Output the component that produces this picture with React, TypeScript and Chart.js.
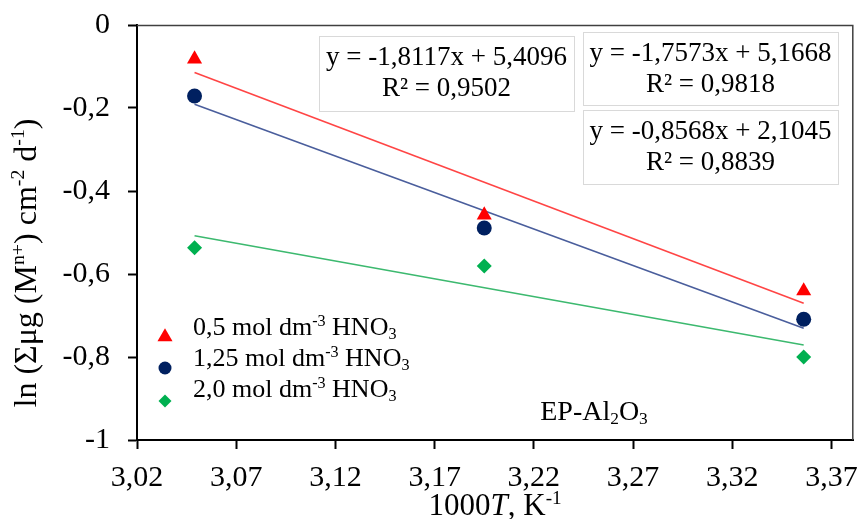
import React, { useEffect, useRef } from "react";
import { Chart, registerables } from "chart.js";

Chart.register(...registerables);

// ---- data ----
const invTemperature = [3.049, 3.195, 3.356]; // 1000/T, K^-1
const hno3_05 = [-0.082, -0.458, -0.641];
const hno3_125 = [-0.171, -0.489, -0.709];
const hno3_20 = [-0.537, -0.581, -0.8];
const seriesConcentrations = ["0,5", "1,25", "2,0"];
const trendSlopes = [-1.8117, -1.7573, -0.8568];
const trendIntercepts = [5.4096, 5.1668, 2.1045];
const trendR2 = [0.9502, 0.9818, 0.8839];
const xTickValues = [3.02, 3.07, 3.12, 3.17, 3.22, 3.27, 3.32, 3.37];
const yTickValues = [0, -0.2, -0.4, -0.6, -0.8, -1];
const materialLabel = "EP-Al";

// ---- styles ----
const FAMILY = '"Liberation Serif", "Times New Roman", serif';
const markerColors = ["#ff0000", "#002060", "#00b050"];
const lineColors = ["#ff4545", "#4a5e9c", "#3cb96f"];
const markerStyles = ["triangle", "circle", "rectRot"] as const;
const markerRadius = [8.7, 7.5, 7.5];

const comma = (v: number, d: number) => v.toFixed(d).replace(".", ",");

type Seg = { t: string; k?: "sup" | "sub" | "it" };

function drawRich(
  ctx: CanvasRenderingContext2D,
  segs: Seg[],
  x: number,
  y: number,
  size: number,
  align: "left" | "center"
) {
  const small = size * 0.62;
  ctx.textAlign = "left";
  ctx.textBaseline = "alphabetic";
  const items = segs.map((s) => {
    const fs = s.k === "sup" || s.k === "sub" ? small : size;
    ctx.font = `${s.k === "it" ? "italic " : ""}${fs}px ${FAMILY}`;
    return { s, fs, w: ctx.measureText(s.t).width };
  });
  const total = items.reduce((a, b) => a + b.w, 0);
  let cx = align === "center" ? x - total / 2 : x;
  for (const it of items) {
    ctx.font = `${it.s.k === "it" ? "italic " : ""}${it.fs}px ${FAMILY}`;
    const dy = it.s.k === "sup" ? -size * 0.36 : it.s.k === "sub" ? size * 0.16 : 0;
    ctx.fillText(it.s.t, cx, y + dy);
    cx += it.w;
  }
}

function drawMarker(ctx: CanvasRenderingContext2D, style: string, x: number, y: number, r: number, color: string) {
  ctx.fillStyle = color;
  ctx.beginPath();
  if (style === "triangle") {
    let rad = 0;
    ctx.moveTo(x + Math.sin(rad) * r, y - Math.cos(rad) * r);
    rad += (2 * Math.PI) / 3;
    ctx.lineTo(x + Math.sin(rad) * r, y - Math.cos(rad) * r);
    rad += (2 * Math.PI) / 3;
    ctx.lineTo(x + Math.sin(rad) * r, y - Math.cos(rad) * r);
  } else if (style === "circle") {
    ctx.arc(x, y, r, 0, Math.PI * 2);
  } else {
    ctx.moveTo(x, y - r);
    ctx.lineTo(x + r, y);
    ctx.lineTo(x, y + r);
    ctx.lineTo(x - r, y);
  }
  ctx.closePath();
  ctx.fill();
}

const decorPlugin = {
  id: "decor",
  afterDraw(chart: any) {
    const ctx: CanvasRenderingContext2D = chart.ctx;
    const a = chart.chartArea;
    ctx.save();
    // top & right frame
    ctx.strokeStyle = "#404040";
    ctx.lineWidth = 1.5;
    ctx.beginPath();
    ctx.moveTo(a.left, a.top + 0.5);
    ctx.lineTo(a.right - 0.5, a.top + 0.5);
    ctx.lineTo(a.right - 0.5, a.bottom);
    ctx.stroke();

    // equation boxes
    const boxes = [
      { x: 319, y: 36, w: 255, h: 75 },
      { x: 583, y: 32, w: 255, h: 73 },
      { x: 583, y: 110, w: 255, h: 74 },
    ];
    boxes.forEach((b, i) => {
      ctx.fillStyle = "#ffffff";
      ctx.fillRect(b.x, b.y, b.w, b.h);
      ctx.strokeStyle = "#d9d9d9";
      ctx.lineWidth = 1;
      ctx.strokeRect(b.x + 0.5, b.y + 0.5, b.w, b.h);
      ctx.fillStyle = "#000";
      const cx = b.x + b.w / 2;
      drawRich(
        ctx,
        [{ t: `y = ${comma(trendSlopes[i], 4)}x + ${comma(trendIntercepts[i], 4)}` }],
        cx,
        b.y + 29,
        27,
        "center"
      );
      drawRich(ctx, [{ t: `R² = ${comma(trendR2[i], 4)}` }], cx, b.y + 60, 27, "center");
    });

    // legend
    const rowsText = [335, 366, 397];
    const rowsMark = [337, 368, 401];
    const legendR = [8.7, 6.5, 6.5];
    seriesConcentrations.forEach((c, i) => {
      drawMarker(ctx, markerStyles[i], 165, rowsMark[i], legendR[i], markerColors[i]);
      ctx.fillStyle = "#000";
      drawRich(
        ctx,
        [{ t: `${c} mol dm` }, { t: "-3", k: "sup" }, { t: " HNO" }, { t: "3", k: "sub" }],
        193,
        rowsText[i],
        26,
        "left"
      );
    });

    // material label
    ctx.fillStyle = "#000";
    drawRich(
      ctx,
      [{ t: materialLabel }, { t: "2", k: "sub" }, { t: "O" }, { t: "3", k: "sub" }],
      594,
      420,
      28,
      "center"
    );

    // x title
    drawRich(
      ctx,
      [{ t: "1000" }, { t: "T", k: "it" }, { t: ", K" }, { t: "-1", k: "sup" }],
      (a.left + a.right) / 2,
      515,
      31,
      "center"
    );

    // y title
    ctx.save();
    ctx.translate(36, 263);
    ctx.rotate(-Math.PI / 2);
    drawRich(
      ctx,
      [
        { t: "ln (Σμg (M" },
        { t: "n+", k: "sup" },
        { t: ") cm" },
        { t: "-2", k: "sup" },
        { t: " d" },
        { t: "-1", k: "sup" },
        { t: ")" },
      ],
      0,
      0,
      32,
      "center"
    );
    ctx.restore();
    ctx.restore();
  },
};

export default function App() {
  const ref = useRef<HTMLCanvasElement>(null);
  useEffect(() => {
    if (!ref.current) return;
    const seriesValues = [hno3_05, hno3_125, hno3_20];
    const pointSets = seriesValues.map((vals, i) => ({
      type: "scatter" as const,
      data: invTemperature.map((x, j) => ({ x, y: vals[j] })),
      pointStyle: markerStyles[i],
      pointRadius: markerRadius[i],
      pointBackgroundColor: markerColors[i],
      pointBorderColor: markerColors[i],
      pointBorderWidth: 0,
      showLine: false,
    }));
    const xFirst = invTemperature[0];
    const xLast = invTemperature[invTemperature.length - 1];
    const trendSets = trendSlopes.map((m, i) => ({
      type: "line" as const,
      data: [
        { x: xFirst, y: m * xFirst + trendIntercepts[i] },
        { x: xLast, y: m * xLast + trendIntercepts[i] },
      ],
      borderColor: lineColors[i],
      borderWidth: 1.6,
      pointRadius: 0,
      fill: false,
    }));
    const tickFont = { family: FAMILY, size: 30 };
    const chart = new Chart(ref.current, {
      type: "scatter",
      data: { datasets: [...pointSets, ...trendSets] as any },
      plugins: [decorPlugin],
      options: {
        animation: false,
        responsive: false,
        layout: { padding: { left: 0, top: 25, right: 8, bottom: 0 } },
        plugins: { legend: { display: false }, tooltip: { enabled: false } },
        scales: {
          x: {
            type: "linear",
            min: 3.02,
            max: 3.381,
            afterBuildTicks: (s: any) => {
              s.ticks = xTickValues.map((v) => ({ value: v }));
            },
            afterFit: (s: any) => {
              s.height = 79;
              s.paddingLeft = 0;
              s.paddingRight = 0;
            },
            ticks: {
              font: tickFont,
              color: "#000",
              padding: 11,
              maxRotation: 0,
              autoSkip: false,
              callback: (v: any) => comma(Number(v), 2),
            },
            grid: {
              drawOnChartArea: false,
              drawTicks: true,
              tickLength: 9,
              tickColor: "#000",
              tickWidth: 2,
            },
            border: { display: true, color: "#000", width: 2 },
          },
          y: {
            type: "linear",
            min: -1,
            max: 0,
            afterBuildTicks: (s: any) => {
              s.ticks = yTickValues.map((v) => ({ value: v }));
            },
            afterFit: (s: any) => {
              s.width = 137;
              s.paddingTop = 0;
              s.paddingBottom = 0;
            },
            ticks: {
              font: tickFont,
              color: "#000",
              padding: 18,
              autoSkip: false,
              callback: (v: any) => {
                const n = Number(v);
                return Number.isInteger(n) ? String(n) : comma(n, 1);
              },
            },
            grid: {
              drawOnChartArea: false,
              drawTicks: true,
              tickLength: 9,
              tickColor: "#000",
              tickWidth: 2,
            },
            border: { display: true, color: "#000", width: 2 },
          },
        },
      },
    });
    return () => chart.destroy();
  }, []);
  return (
    <div style={{ position: "fixed", left: 0, top: 0, width: 862, height: 519, background: "#fff" }}>
      <canvas ref={ref} width={862} height={519} style={{ display: "block" }} />
    </div>
  );
}
